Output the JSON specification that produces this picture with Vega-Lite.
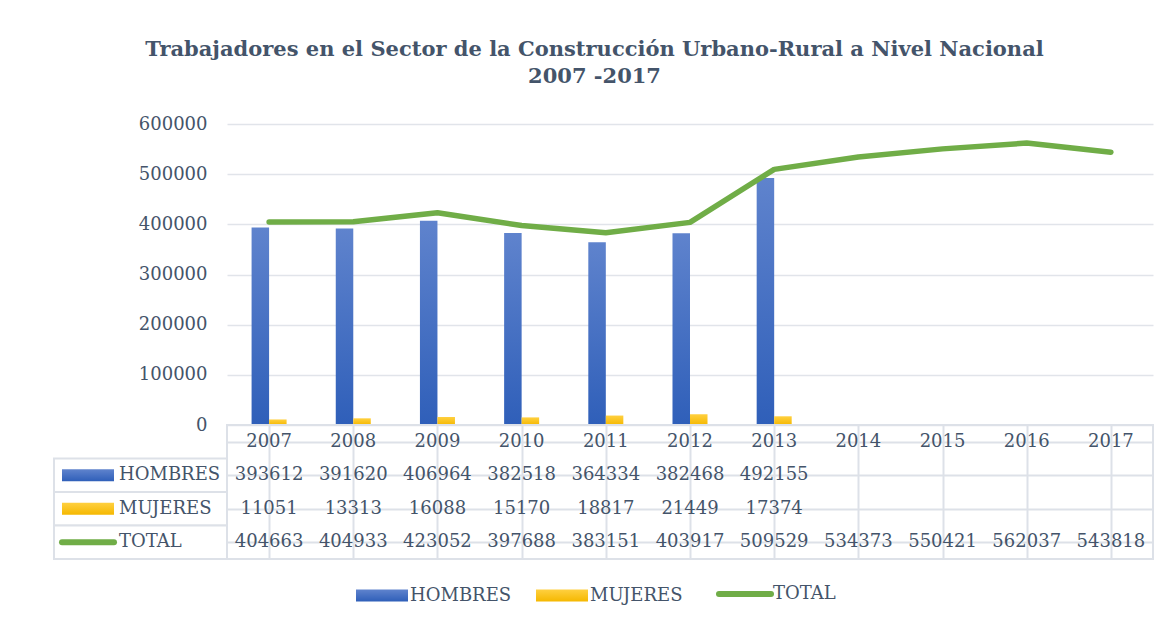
{
  "$schema": "https://vega.github.io/schema/vega-lite/v6.json",
  "background": "white",
  "padding": {"left": 50, "top": 39, "right": 14, "bottom": 0},
  "title": {
    "text": ["Trabajadores en el Sector de la Construcción Urbano-Rural a Nivel Nacional", "2007 -2017"],
    "font": "DejaVu Serif", "fontSize": 21, "fontWeight": "bold", "color": "#44546A",
    "anchor": "middle", "offset": 28, "lineHeight": 27, "dx": -7.5
  },
  "datasets": {
    "rows": [
      {"year": "2007", "serie": "HOMBRES", "value": 393612},
      {"year": "2008", "serie": "HOMBRES", "value": 391620},
      {"year": "2009", "serie": "HOMBRES", "value": 406964},
      {"year": "2010", "serie": "HOMBRES", "value": 382518},
      {"year": "2011", "serie": "HOMBRES", "value": 364334},
      {"year": "2012", "serie": "HOMBRES", "value": 382468},
      {"year": "2013", "serie": "HOMBRES", "value": 492155},
      {"year": "2007", "serie": "MUJERES", "value": 11051},
      {"year": "2008", "serie": "MUJERES", "value": 13313},
      {"year": "2009", "serie": "MUJERES", "value": 16088},
      {"year": "2010", "serie": "MUJERES", "value": 15170},
      {"year": "2011", "serie": "MUJERES", "value": 18817},
      {"year": "2012", "serie": "MUJERES", "value": 21449},
      {"year": "2013", "serie": "MUJERES", "value": 17374},
      {"year": "2007", "serie": "TOTAL", "value": 404663},
      {"year": "2008", "serie": "TOTAL", "value": 404933},
      {"year": "2009", "serie": "TOTAL", "value": 423052},
      {"year": "2010", "serie": "TOTAL", "value": 397688},
      {"year": "2011", "serie": "TOTAL", "value": 383151},
      {"year": "2012", "serie": "TOTAL", "value": 403917},
      {"year": "2013", "serie": "TOTAL", "value": 509529},
      {"year": "2014", "serie": "TOTAL", "value": 534373},
      {"year": "2015", "serie": "TOTAL", "value": 550421},
      {"year": "2016", "serie": "TOTAL", "value": 562037},
      {"year": "2017", "serie": "TOTAL", "value": 543818}
    ],
    "labels": [
      {"serie": "HOMBRES"},
      {"serie": "MUJERES"},
      {"serie": "TOTAL"}
    ]
  },
  "columns": 2,
  "spacing": 0,
  "bounds": "flush",
  "align": "each",
  "resolve": {"scale": {"color": "shared"}, "legend": {"color": "shared"}},
  "concat": [
    {
      "width": 173, "height": 301,
      "data": {"values": []},
      "mark": "text",
      "encoding": {}
    },
    {
      "width": 926, "height": 301,
      "data": {"name": "rows"},
      "encoding": {
        "x": {"field": "year", "type": "ordinal", "scale": {"paddingInner": 0.584, "paddingOuter": 0.292}, "axis": null}
      },
      "layer": [
        {
          "transform": [{"filter": "datum.serie === 'HOMBRES'"}],
          "mark": {"type": "bar", "fill": {"gradient": "linear", "x1": 0, "y1": 0, "x2": 0, "y2": 1, "stops": [{"offset": 0, "color": "#5F83CD"}, {"offset": 1, "color": "#2F5FB9"}]}},
          "encoding": {
            "xOffset": {"field": "serie", "type": "nominal", "scale": {"domain": ["HOMBRES", "MUJERES"], "paddingInner": 0, "paddingOuter": 0}},
            "y": {"field": "value", "type": "quantitative", "scale": {"domain": [0, 600000]},
              "axis": {"values": [0, 100000, 200000, 300000, 400000, 500000, 600000], "format": "d", "grid": true, "gridColor": "#E1E4EA", "gridWidth": 1.5, "domain": false, "ticks": false, "labelFont": "DejaVu Serif", "labelFontSize": 18, "labelColor": "#44546A", "labelPadding": 20, "title": null}}
          }
        },
        {
          "transform": [{"filter": "datum.serie === 'MUJERES'"}],
          "mark": {"type": "bar", "fill": {"gradient": "linear", "x1": 0, "y1": 0, "x2": 0, "y2": 1, "stops": [{"offset": 0, "color": "#FFD040"}, {"offset": 1, "color": "#F5B800"}]}},
          "encoding": {
            "xOffset": {"field": "serie", "type": "nominal", "scale": {"domain": ["HOMBRES", "MUJERES"], "paddingInner": 0, "paddingOuter": 0}},
            "y": {"field": "value", "type": "quantitative"}
          }
        },
        {
          "transform": [{"filter": "datum.serie === 'TOTAL'"}],
          "mark": {"type": "line", "strokeWidth": 5.5, "strokeCap": "round", "strokeJoin": "round", "interpolate": "linear"},
          "encoding": {
            "y": {"field": "value", "type": "quantitative"},
            "color": {"field": "serie", "type": "nominal",
              "scale": {"domain": ["HOMBRES", "MUJERES", "TOTAL"], "range": ["#4472C4", "#FFC000", "#70AD47"]},
              "legend": {
                "orient": "none", "legendX": 319, "legendY": 461, "direction": "horizontal", "title": null,
                "labelFont": "DejaVu Serif", "labelFontSize": 18, "labelColor": "#44546A", "labelOffset": 19,
                "symbolSize": 2704, "columnPadding": 24, "symbolType": "M-1,-0.23H1V0.23H-1Z",
                "encode": {
                  "symbols": {
                    "update": {
                      "shape": {"signal": "datum.value === 'TOTAL' ? 'stroke' : 'M-1,-0.23H1V0.23H-1Z'"},
                      "strokeWidth": {"signal": "datum.value === 'TOTAL' ? 6 : 0"},
                      "strokeCap": {"value": "round"},
                      "stroke": {"signal": "datum.value === 'TOTAL' ? '#70AD47' : 'transparent'"},
                      "fill": {"signal": "datum.value === 'HOMBRES' ? {gradient: 'linear', x1: 0, y1: 0, x2: 0, y2: 1, stops: [{offset: 0, color: '#5F83CD'}, {offset: 1, color: '#2F5FB9'}]} : datum.value === 'MUJERES' ? {gradient: 'linear', x1: 0, y1: 0, x2: 0, y2: 1, stops: [{offset: 0, color: '#FFD040'}, {offset: 1, color: '#F5B800'}]} : 'transparent'"},
                      "opacity": {"value": 1}
                    }
                  }
                }
              }
            }
          }
        }
      ]
    },
    {
      "width": 173, "height": 134,
      "data": {"name": "labels"},
      "encoding": {
        "y": {"field": "serie", "type": "nominal", "scale": {"domain": ["AÑO", "HOMBRES", "MUJERES", "TOTAL"], "paddingInner": 0, "paddingOuter": 0}, "axis": null}
      },
      "layer": [
        {
          "mark": {"type": "rect", "fill": "white", "stroke": "#DDE1E8", "strokeWidth": 2}
        },
        {
          "transform": [{"filter": "datum.serie === 'HOMBRES'"}],
          "mark": {"type": "point", "shape": "M-1,-0.23H1V0.23H-1Z", "size": 2704, "filled": true, "opacity": 1, "strokeWidth": 0, "xOffset": -52.5,
            "fill": {"gradient": "linear", "x1": 0, "y1": 0, "x2": 0, "y2": 1, "stops": [{"offset": 0, "color": "#5F83CD"}, {"offset": 1, "color": "#2F5FB9"}]}}
        },
        {
          "transform": [{"filter": "datum.serie === 'MUJERES'"}],
          "mark": {"type": "point", "shape": "M-1,-0.23H1V0.23H-1Z", "size": 2704, "filled": true, "opacity": 1, "strokeWidth": 0, "xOffset": -52.5,
            "fill": {"gradient": "linear", "x1": 0, "y1": 0, "x2": 0, "y2": 1, "stops": [{"offset": 0, "color": "#FFD040"}, {"offset": 1, "color": "#F5B800"}]}}
        },
        {
          "transform": [{"filter": "datum.serie === 'TOTAL'"}],
          "mark": {"type": "point", "shape": "stroke", "size": 2704, "filled": false, "opacity": 1, "stroke": "#70AD47", "strokeWidth": 6, "strokeCap": "round", "xOffset": -52.5}
        },
        {
          "mark": {"type": "text", "align": "left", "baseline": "middle", "dx": -21.5, "font": "DejaVu Serif", "fontSize": 18, "color": "#44546A"},
          "encoding": {"text": {"field": "serie", "type": "nominal"}}
        }
      ]
    },
    {
      "width": 926, "height": 134,
      "view": {"stroke": "#DDE1E8", "strokeWidth": 2},
      "data": {"name": "rows"},
      "encoding": {
        "x": {"field": "year", "type": "ordinal", "scale": {"paddingInner": 0, "paddingOuter": 0},
          "axis": {"grid": true, "bandPosition": 0, "labels": false, "ticks": false, "domain": false, "title": null, "gridColor": "#DDE1E8", "gridWidth": 2}}
      },
      "layer": [
        {
          "mark": {"type": "text", "font": "DejaVu Serif", "fontSize": 18, "color": "#44546A"},
          "encoding": {
            "y": {"field": "serie", "type": "nominal", "scale": {"domain": ["AÑO", "HOMBRES", "MUJERES", "TOTAL"], "paddingInner": 0, "paddingOuter": 0},
              "axis": {"grid": true, "bandPosition": 0, "labels": false, "ticks": false, "domain": false, "title": null, "gridColor": "#DDE1E8", "gridWidth": 2}},
            "text": {"field": "value", "type": "quantitative", "format": "d"}
          }
        },
        {
          "transform": [{"filter": "datum.serie === 'TOTAL'"}],
          "mark": {"type": "text", "font": "DejaVu Serif", "fontSize": 18, "color": "#44546A"},
          "encoding": {
            "y": {"datum": "AÑO", "type": "nominal"},
            "text": {"field": "year", "type": "nominal"}
          }
        }
      ]
    }
  ],
  "config": {
    "view": {"stroke": null},
    "font": "DejaVu Serif"
  }
}
